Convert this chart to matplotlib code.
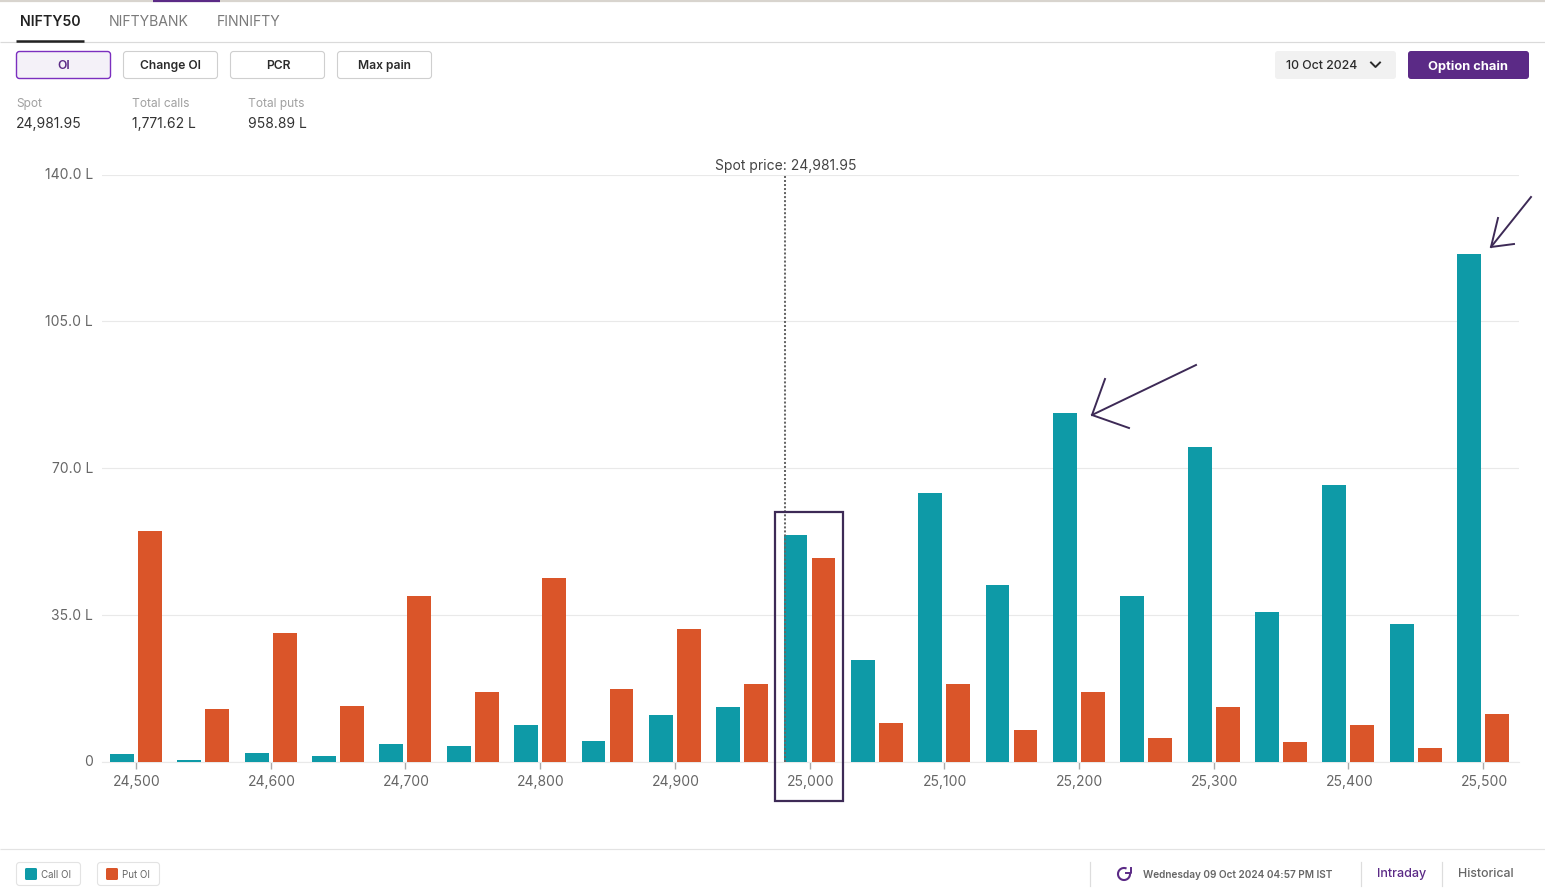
import matplotlib
matplotlib.use('Agg')
import matplotlib.pyplot as plt
from matplotlib.patches import FancyBboxPatch, Rectangle, Arc
from matplotlib.transforms import ScaledTranslation

plt.rcParams['font.family'] = ['Inter', 'DejaVu Sans']

W, H = 1545, 893
strikes = [24500, 24550, 24600, 24650, 24700, 24750, 24800, 24850, 24900, 24950, 25000,
           25050, 25100, 25150, 25200, 25250, 25300, 25350, 25400, 25450, 25500]
call_oi = [1.8, 0.5, 2.1, 1.4, 4.2, 3.8, 8.8, 4.8, 11.2, 13.1, 54.1,
           24.3, 64.0, 42.1, 83.2, 39.6, 75.1, 35.6, 66.0, 32.9, 121.0]
put_oi = [55.0, 12.6, 30.6, 13.3, 39.6, 16.7, 43.9, 17.4, 31.7, 18.6, 48.6,
          9.3, 18.6, 7.6, 16.6, 5.7, 13.1, 4.7, 8.8, 3.3, 11.3]
y_ticks = [0, 35, 70, 105, 140]
y_labels = ['0', '35.0 L', '70.0 L', '105.0 L', '140.0 L']
x_ticks = [24500, 24600, 24700, 24800, 24900, 25000, 25100, 25200, 25300, 25400, 25500]
x_labels = ['24,500', '24,600', '24,700', '24,800', '24,900', '25,000',
            '25,100', '25,200', '25,300', '25,400', '25,500']
spot = 24981.95

TEAL, ORANGE, PURPLE, DARK = '#0E9AA7', '#DA5529', '#5B2A86', '#3D2A56'
GREY, TXT = '#8A8A8A', '#2B2B2B'

fig = plt.figure(figsize=(W / 100, H / 100), dpi=100, facecolor='white')

# chart axes
L, R, T, B = 102, 1519, 174.6, 761.6
ax = fig.add_axes([L / W, 1 - B / H, (R - L) / W, (B - T) / H])
ppu = 1.347
ax.set_xlim(24500 - (136.0 - L) / ppu, 25500 + (R - 136.0 - 1347) / ppu)
ax.set_ylim(0, 140)
off, bw = 10.4, 17.7
ax.bar([s - off for s in strikes], call_oi, width=bw, color=TEAL, zorder=3)
ax.bar([s + off for s in strikes], put_oi, width=bw, color=ORANGE, zorder=3)
ax.set_yticks(y_ticks, y_labels)
ax.set_xticks(x_ticks, x_labels)
ax.tick_params(axis='y', length=0, pad=6.5, labelsize=10.0, labelcolor='#666666')
ax.tick_params(axis='x', length=5, width=1, color='#AAAAAA', pad=4.5, labelsize=10.0, labelcolor='#666666')
for lab in ax.get_xticklabels():
    lab.set_transform(lab.get_transform() + ScaledTranslation(1.0 / 100, 0, fig.dpi_scale_trans))
for lab in ax.get_yticklabels():
    lab.set_transform(lab.get_transform() + ScaledTranslation(0, 0.8 / 100, fig.dpi_scale_trans))
ax.grid(axis='y', color='#E9E9E9', lw=0.85, zorder=0)
ax.set_axisbelow(True)
for s in ['top', 'left', 'right']:
    ax.spines[s].set_visible(False)
ax.spines['bottom'].set_color('#E9E9E9')
ax.plot([spot, spot], [0, 140], color='#666666', lw=1.45, ls=(0, (1.0, 1.0)), zorder=4, clip_on=False)

# pixel overlay for the page furniture
ov = fig.add_axes([0, 0, 1, 1], facecolor='none')
ov.set_xlim(0, W)
ov.set_ylim(H, 0)
ov.axis('off')


def txt(x, y, s, size=9.4, color=TXT, ha='left', weight='normal'):
    ov.text(x, y, s, fontsize=size, color=color, ha=ha, va='center', fontweight=weight)


def box(x0, y0, x1, y1, fc='white', ec='#CFCFCF', lw=0.8, r=3):
    ov.add_patch(FancyBboxPatch((x0 + r, y0 + r), x1 - x0 - 2 * r, y1 - y0 - 2 * r,
                                boxstyle=f'round,pad={r},rounding_size={r}', fc=fc, ec=ec, lw=lw))


def hline(y, x0=0, x1=W, c='#DADADA', lw=0.85):
    ov.plot([x0, x1], [y, y], color=c, lw=lw, solid_capstyle='butt')


# top chrome
hline(0.8, c='#D8D4CE', lw=1.6)
hline(0.8, 153, 220, c=PURPLE, lw=1.6)
hline(42.0)
hline(41.0, 16, 84, c='#222222', lw=1.8)
txt(20, 22.5, 'NIFTY50', 10.2, '#222222', weight='semibold')
txt(109, 22.5, 'NIFTYBANK', 10.1, '#7A7A7A')
txt(217, 22.5, 'FINNIFTY', 10.1, '#7A7A7A')

# buttons
box(16.5, 51.5, 110.5, 78.5, fc='#F4F1F8', ec='#7B2FBF', lw=1.0)
txt(63.5, 66, 'OI', 8.8, PURPLE, 'center', 'semibold')
for x0, label, yy in [(123.5, 'Change OI', 65.5), (230.5, 'PCR', 66), (337.5, 'Max pain', 65.5)]:
    box(x0, 51.5, x0 + 94, 78.5)
    txt(x0 + 47.5, yy, label, 8.7, '#2B2B2B', 'center', 'semibold')
box(1275, 51, 1396, 79, fc='#F1F1F1', ec='none')
txt(1286.5, 66, '10 Oct 2024', 8.9, '#2B2B2B', weight='medium')
ov.plot([1371, 1375.5, 1380], [62.5, 67, 62.5], color='#2B2B2B', lw=1.4)
box(1408, 51, 1529, 79, fc=PURPLE, ec='none')
txt(1468.5, 66.5, 'Option chain', 9.3, 'white', 'center', 'bold')

# summary
for x, head, val in [(16, 'Spot', '24,981.95'), (132, 'Total calls', '1,771.62 L'), (248, 'Total puts', '958.89 L')]:
    txt(x, 104, head, 8.6, '#A0A0A0')
    txt(x, 124, val, 10.0, '#333333')

txt(785.5, 166, 'Spot price: 24,981.95', 10.0, '#444444', 'center')

# annotations drawn over the chart
ov.add_patch(Rectangle((775, 512), 68, 289, fc='none', ec=DARK, lw=1.6, zorder=6))
ov.plot([1196, 1092], [365, 415], color=DARK, lw=1.4, zorder=6)
ov.plot([1105, 1092, 1129], [379, 415, 428], color=DARK, lw=1.4, zorder=6)
ov.plot([1531, 1491], [197, 247], color=DARK, lw=1.4, zorder=6)
ov.plot([1498, 1491, 1514], [218, 247, 244], color=DARK, lw=1.4, zorder=6)

# footer
hline(849.0, c='#E3E3E3')
box(16.5, 862.5, 80.5, 885.5, ec='#E3E3E3', r=3)
box(97.5, 862.5, 159.5, 885.5, ec='#E3E3E3', r=3)
box(25, 868, 37, 880, fc=TEAL, ec='none', r=1.5)
box(106, 868, 118, 880, fc=ORANGE, ec='none', r=1.5)
txt(41, 875, 'Call OI', 7.0, '#666666')
txt(122, 875, 'Put OI', 7.0, '#666666')
for x in [1089.5, 1360.5, 1441.5]:
    ov.plot([x, x], [862, 886], color='#DDDDDD', lw=0.85)
ov.add_patch(Arc((1124, 874), 12, 12, theta1=-5, theta2=295, color=PURPLE, lw=1.5))
ov.plot([1130.5, 1130.5, 1125.5], [867.5, 872.5, 872.5], color=PURPLE, lw=1.4)
txt(1143, 875, 'Wednesday 09 Oct 2024 04:57 PM IST', 7.25, '#666666', weight='semibold')
txt(1377, 873.5, 'Intraday', 9.0, PURPLE, weight='medium')
txt(1458, 874, 'Historical', 8.9, '#666666', weight='medium')

fig.savefig('out.png', dpi=100)
